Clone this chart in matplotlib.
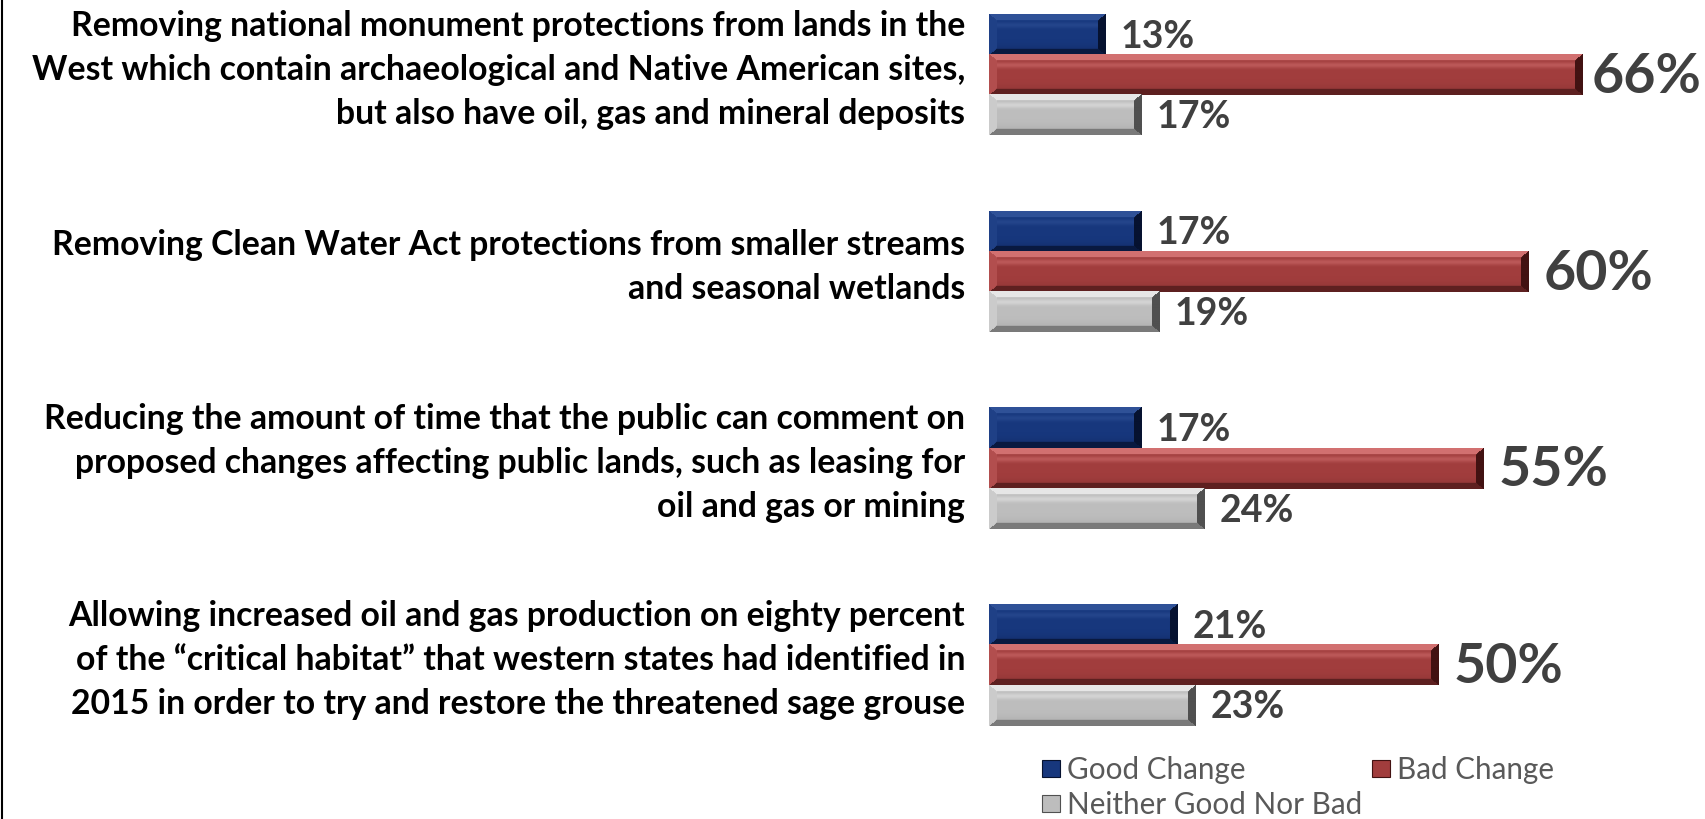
import numpy as np
import matplotlib
matplotlib.use('Agg')
import matplotlib.pyplot as plt
from matplotlib.colors import to_rgb
from matplotlib.patches import Rectangle
from matplotlib.lines import Line2D
from matplotlib.transforms import offset_copy

# Data
CATEGORIES = [
    "Removing national monument protections from lands in the\n"
    "West which contain archaeological and Native American sites,\n"
    "but also have oil, gas and mineral deposits",
    "Removing Clean Water Act protections from smaller streams\n"
    "and seasonal wetlands",
    "Reducing the amount of time that the public can comment on\n"
    "proposed changes affecting public lands, such as leasing for\n"
    "oil and gas or mining",
    "Allowing increased oil and gas production on eighty percent\n"
    "of the \u201ccritical habitat\u201d that western states had identified in\n"
    "2015 in order to try and restore the threatened sage grouse",
]
SERIES = ['Good Change', 'Bad Change', 'Neither Good Nor Bad']
good = [13, 17, 17, 21]
bad = [66, 60, 55, 50]
neither = [17, 19, 24, 23]

# base, light, dark, darkest
PALETTE = {
    'Good Change': ('#17377d', '#2f5197', '#0b1d48', '#061230'),
    'Bad Change': ('#a13d3d', '#d27070', '#6a2626', '#421212'),
    'Neither Good Nor Bad': ('#bdbdbd', '#e6e6e6', '#8c8c8c', '#505050'),
}

W, H = 1705, 819
BAR_H = 0.205


def mix(a, b, f):
    return a + (b - a) * f


def bevel_image(wpx, hpx, colors, bw=8, bh=6):
    """Build a bevelled bar image like the Office 'shape effect'."""
    base, light, dark, darkest = [np.array(to_rgb(c)) for c in colors]
    yy, xx = np.mgrid[0:hpx, 0:wpx] + 0.5
    t = yy / hpx
    hl = np.exp(-((t - 0.27) / 0.07) ** 2)[..., None]
    sh = (np.clip((t - 0.62) / 0.38, 0, 1) ** 2)[..., None]
    img = base + (light - base) * hl * 0.55 + (dark - base) * sh * 0.6
    dist = np.stack([yy / bh, (hpx - yy) / bh, xx / bw, (wpx - xx) / bw])
    facet = np.argmin(dist, axis=0)
    inside = dist.min(axis=0) < 1
    facet_cols = [light, mix(dark, darkest, 0.3), mix(base, light, 0.35),
                  darkest]
    for k, c in enumerate(facet_cols):
        img[(facet == k) & inside] = c
    return np.clip(img, 0, 1)


fig = plt.figure(figsize=(W / 100, H / 100), dpi=100)
ax = fig.add_axes([989 / W, 0, (W - 989) / W, 1])
ax.set_xlim(0, (W - 989) / 9.0)
ax.set_ylim((H - 75) / 196.7, -75 / 196.7)
ax.axis('off')

y = np.arange(len(CATEGORIES))
offsets = [-BAR_H, 0, BAR_H]
values = [good, bad, neither]

for name, off, vals in zip(SERIES, offsets, values):
    ax.barh(y + off, vals, height=BAR_H, color=PALETTE[name][0], zorder=1)

fig.canvas.draw()
for name, off, vals in zip(SERIES, offsets, values):
    for yi, v in zip(y + off, vals):
        p0 = ax.transData.transform((0, yi - BAR_H / 2))
        p1 = ax.transData.transform((v, yi + BAR_H / 2))
        wpx = max(int(round(abs(p1[0] - p0[0]))), 2)
        hpx = max(int(round(abs(p1[1] - p0[1]))), 2)
        img = bevel_image(wpx, hpx, PALETTE[name])
        ax.imshow(img, extent=(0, v, yi + BAR_H / 2, yi - BAR_H / 2),
                  aspect='auto', interpolation='bilinear', zorder=2)
ax.set_xlim(0, (W - 989) / 9.0)
ax.set_ylim((H - 75) / 196.7, -75 / 196.7)

# category labels
lab_tr = offset_copy(ax.transData, fig=fig, x=-24, y=5, units='dots')
for yi, cat in zip(y, CATEGORIES):
    ax.text(0, yi, cat, transform=lab_tr, ha='right', va='center',
            fontsize=24.3, fontweight='bold', family='Lato', color='black',
            linespacing=1.46, multialignment='right')

# value labels
value_texts = []
val_tr = offset_copy(ax.transData, fig=fig, x=15, y=-2, units='dots')
for name, off, vals in zip(SERIES, offsets, values):
    big = name == 'Bad Change'
    for yi, v in zip(y + off, vals):
        t = ax.text(v, yi, f'{v}%', transform=val_tr, ha='left', va='center',
                    fontsize=40 if big else 27, fontweight='bold',
                    family='Lato', color='#404040', clip_on=False)
        value_texts.append(t)

# keep labels inside the canvas (the 66% label is squeezed in the original)
fig.canvas.draw()
for t in value_texts:
    bb = t.get_window_extent()
    if bb.x1 > W - 4:
        t.set_transform(offset_copy(ax.transData, fig=fig,
                                    x=15 - (bb.x1 - (W - 4)), y=-2,
                                    units='dots'))

# legend
handles = [Rectangle((0, 0), 1, 1, facecolor=PALETTE[n][0],
                     edgecolor=PALETTE[n][3], linewidth=0.8) for n in SERIES]
order = [0, 2, 1]
fig.legend([handles[i] for i in order], [SERIES[i] for i in order],
           loc='upper left', bbox_to_anchor=(1042 / W, (H - 756) / H),
           ncol=2, frameon=False, borderpad=0, borderaxespad=0,
           handlelength=0.61, handleheight=0.5, handletextpad=0.22,
           labelspacing=0.24, columnspacing=0.35,
           prop={'family': 'Lato', 'size': 21.3}, labelcolor='#595959')

# left frame line
fig.add_artist(Line2D([2 / W, 2 / W], [0, 1], transform=fig.transFigure,
                      color='black', linewidth=1.5))

fig.savefig('out.png', dpi=100)
